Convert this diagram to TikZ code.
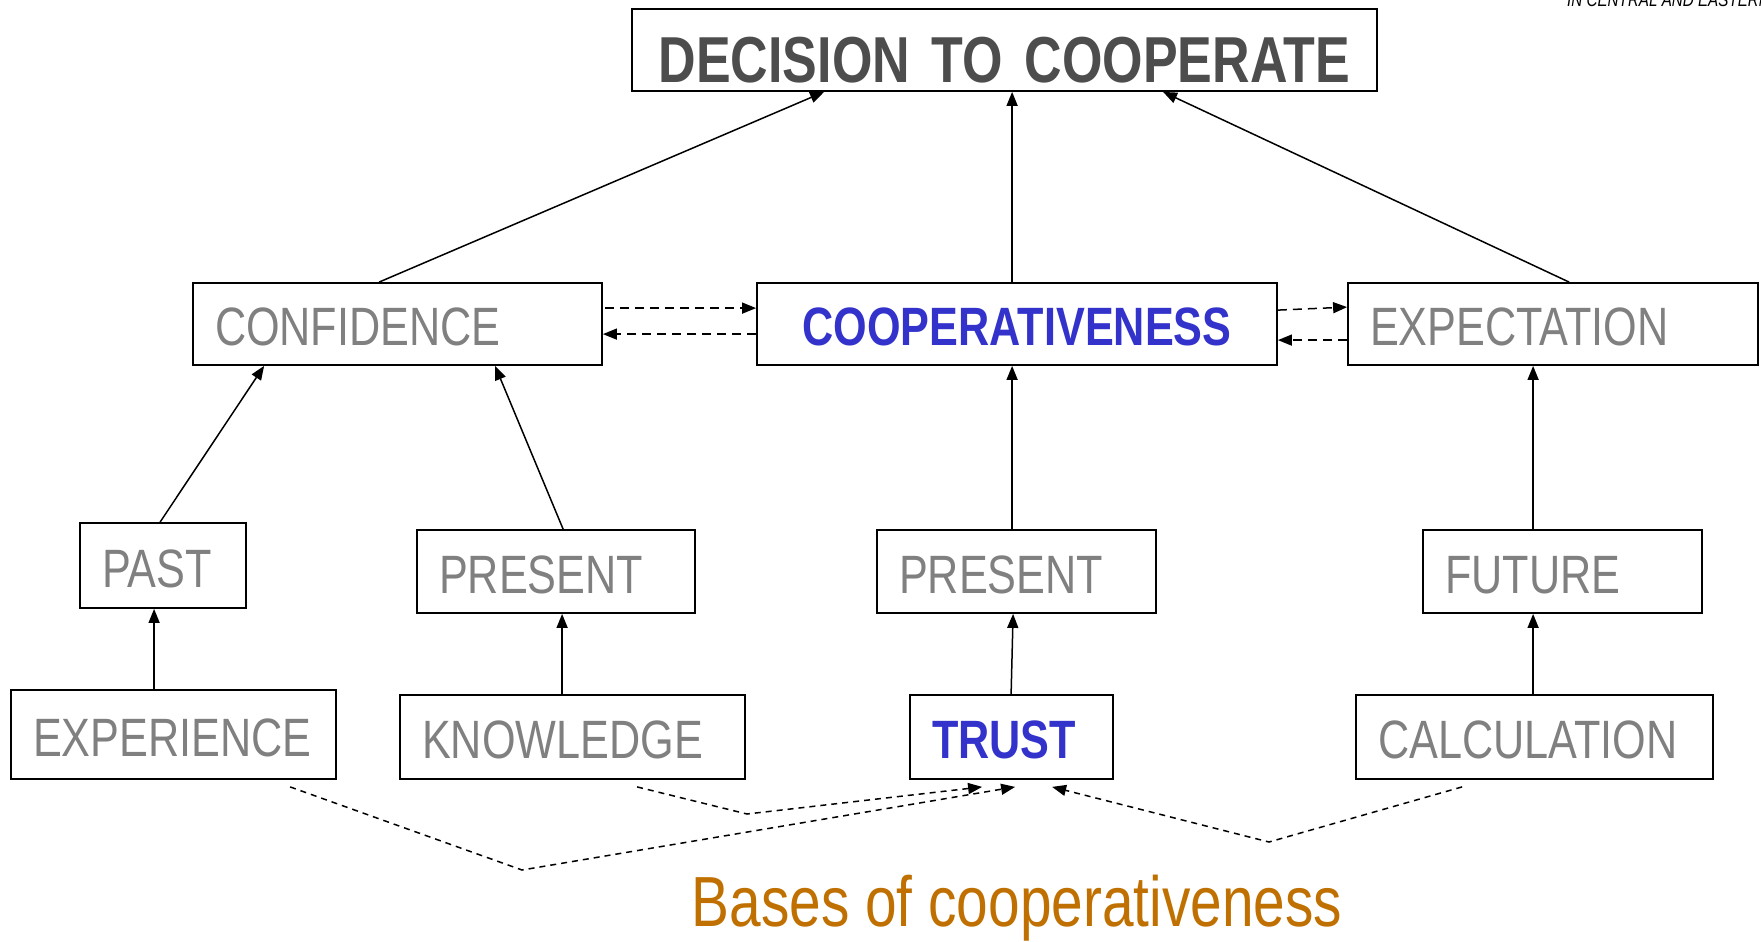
\documentclass[tikz,border=0pt]{standalone}
\usepackage{fontspec}
\setmainfont[FakeStretch=0.8]{Liberation Sans}
\usetikzlibrary{arrows.meta,calc}
\definecolor{txtgray}{HTML}{808080}
\definecolor{decgray}{HTML}{4D4D4D}
\definecolor{coopblue}{HTML}{3333CC}
\definecolor{basesorange}{HTML}{BF7000}
\tikzset{
  bx/.style n args={3}{draw, line width=1.8pt, minimum width=#1pt, text width=#2pt,
    minimum height=#3pt, inner xsep=22pt, inner ysep=0pt, align=left,
    text height=43pt, text depth=0pt,
    font=\fontsize{54}{60}\selectfont, text=txtgray},
  hl/.style={text=coopblue, font=\fontsize{54}{60}\selectfont\bfseries},
  arr/.style={-{Triangle[length=14pt,width=11pt]}, line width=1.5pt},
  darr/.style={arr, dash pattern=on 9pt off 6pt},
  barr/.style={arr, dash pattern=on 6pt off 5pt},
}
\begin{document}
\begin{tikzpicture}[x=1pt,y=-1pt]
\useasboundingbox (0,0) rectangle (1761,942);
% header text, cut by the top edge as in the reference
\node[anchor=base west, inner sep=0pt, font=\fontsize{19}{22}\selectfont\itshape, text=black] (hdr) at (1567,7) {IN CENTRAL AND EASTERN};
% top
\node[bx={745}{701}{82}, align=center, text=decgray, text height=64pt, font=\fontsize{65}{70}\selectfont\bfseries] (dec) at (1004.5,50) {DECISION TO COOPERATE};
% middle row
\node[bx={409}{365}{82}] (conf) at (397.5,324) {CONFIDENCE};
\node[bx={520}{476}{82}, align=center, hl] (coop) at (1017,324) {COOPERATIVENESS};
\node[bx={410}{366}{82}] (expe) at (1553,324) {EXPECTATION};
% time row
\node[bx={166}{122}{85}] (past) at (163,565.5) {PAST};
\node[bx={278}{234}{83}] (presL) at (556,571.5) {PRESENT};
\node[bx={279}{235}{83}] (presM) at (1016.5,571.5) {PRESENT};
\node[bx={279}{235}{83}] (fut) at (1562.5,571.5) {FUTURE};
% bases row
\node[bx={325}{281}{89}] (exper) at (173.5,734.5) {EXPERIENCE};
\node[bx={345}{301}{84}] (know) at (572.5,737) {KNOWLEDGE};
\node[bx={203}{159}{84}, hl] (trust) at (1011.5,737) {TRUST};
\node[bx={357}{313}{84}] (calc) at (1534.5,737) {CALCULATION};
% caption
\node[anchor=base, font=\fontsize{71}{77}\selectfont, text=basesorange, inner sep=0pt] (bases) at (1017,926) {Bases of cooperativeness};
% solid arrows up
\draw[arr] ([xshift=187]conf.north west) -- ([xshift=193]dec.south west);
\draw[arr] ([xshift=256]coop.north west) -- ([xshift=381]dec.south west);
\draw[arr] ([xshift=222]expe.north west) -- ([xshift=532]dec.south west);
\draw[arr] ([xshift=81]past.north west) -- ([xshift=72]conf.south west);
\draw[arr] ([xshift=147]presL.north west) -- ([xshift=303]conf.south west);
\draw[arr] ([xshift=136]presM.north west) -- ([xshift=256]coop.south west);
\draw[arr] ([xshift=111]fut.north west) -- ([xshift=186]expe.south west);
\draw[arr] ([xshift=144]exper.north west) -- ([xshift=75]past.south west);
\draw[arr] ([xshift=163]know.north west) -- ([xshift=146]presL.south west);
\draw[arr] ([xshift=102]trust.north west) -- ([xshift=137]presM.south west);
\draw[arr] ([xshift=178]calc.north west) -- ([xshift=111]fut.south west);
% dashed horizontal arrows
\draw[darr] ([xshift=2,yshift=-26]conf.north east) -- ([yshift=-26]coop.north west);
\draw[darr] ([yshift=-52]coop.north west) -- ([yshift=-52]conf.north east);
\draw[darr] ([yshift=-28]coop.north east) -- ([yshift=-25]expe.north west);
\draw[darr] ([yshift=-58]expe.north west) -- ([yshift=-58]coop.north east);
% bottom dashed convergence
\coordinate (kv) at (747,814);
\coordinate (ev) at (522,870);
\coordinate (cv) at (1269,842);
\draw[barr] ([xshift=238,yshift=-7]know.south west) -- (kv) -- ([xshift=73,yshift=-7]trust.south west);
\draw[barr] ([xshift=280,yshift=-7]exper.south west) -- (ev) -- ([xshift=106,yshift=-7]trust.south west);
\draw[barr] ([xshift=107,yshift=-7]calc.south west) -- (cv) -- ([xshift=143,yshift=-7]trust.south west);
\end{tikzpicture}
\end{document}
